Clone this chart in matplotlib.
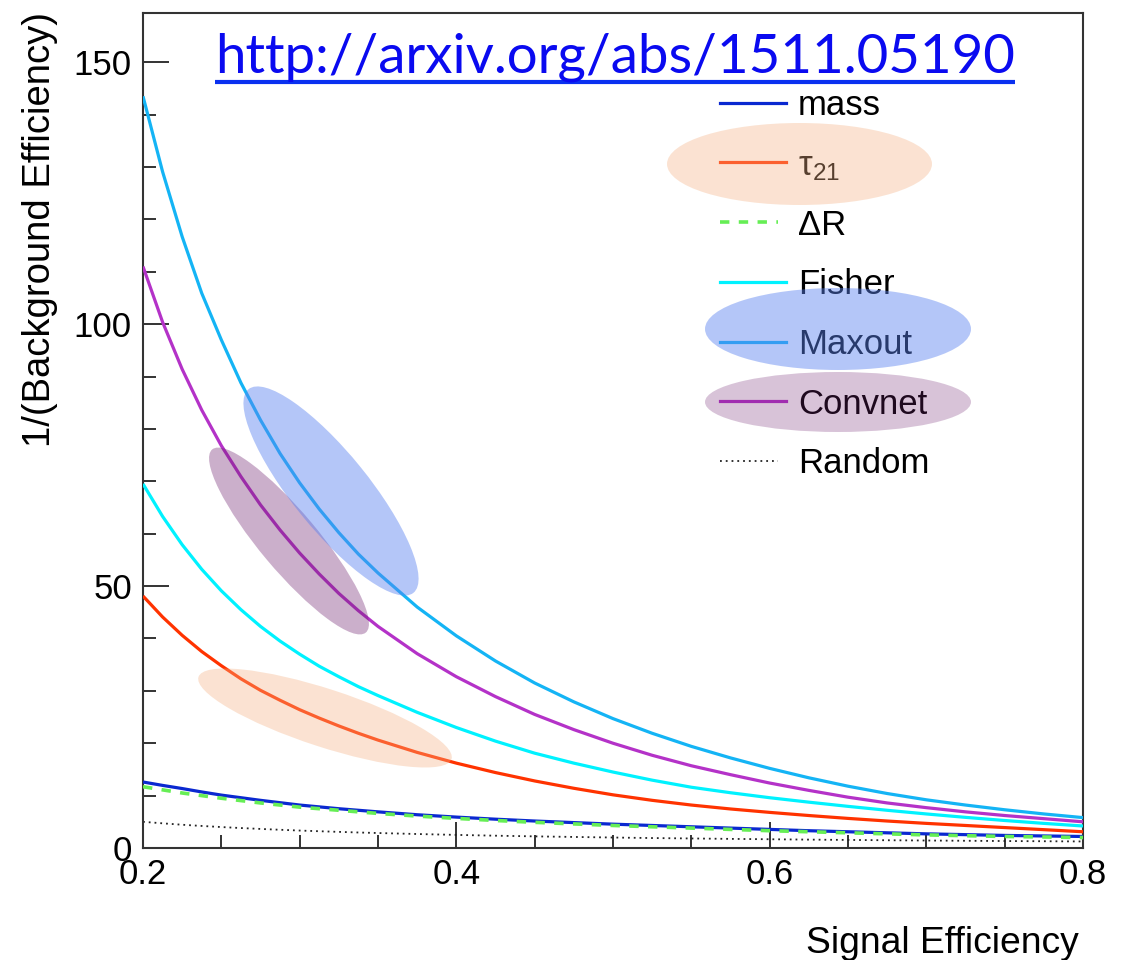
import matplotlib
matplotlib.use('Agg')
import matplotlib.pyplot as plt
from matplotlib.patches import Ellipse
from matplotlib.lines import Line2D
from matplotlib.ticker import MultipleLocator

plt.rcParams['font.family'] = ['Liberation Sans', 'DejaVu Sans']
plt.rcParams['mathtext.fontset'] = 'custom'
plt.rcParams['mathtext.rm'] = 'Liberation Sans'
plt.rcParams['mathtext.it'] = 'Liberation Sans'
plt.rcParams['mathtext.default'] = 'regular'

# ---------------- data ----------------
sig_eff = [0.2, 0.2125, 0.225, 0.2375, 0.25, 0.2625, 0.275, 0.2875, 0.3, 0.3125,
           0.325, 0.3375, 0.35, 0.375, 0.4, 0.425, 0.45, 0.475, 0.5, 0.525,
           0.55, 0.575, 0.6, 0.625, 0.65, 0.675, 0.7, 0.725, 0.75, 0.775, 0.8]
mass    = [12.6, 11.95, 11.35, 10.7, 10.1, 9.6, 9.1, 8.65, 8.2, 7.85,
           7.5, 7.2, 6.9, 6.35, 5.9, 5.5, 5.15, 4.85, 4.55, 4.3,
           4.05, 3.8, 3.55, 3.3, 3.1, 2.9, 2.7, 2.55, 2.4, 2.3, 2.2]
tau21   = [48.1, 44.1, 40.6, 37.5, 34.8, 32.3, 30.1, 28.2, 26.4, 24.8,
           23.3, 21.9, 20.6, 18.25, 16.2, 14.4, 12.8, 11.4, 10.15, 9.1,
           8.2, 7.45, 6.8, 6.2, 5.65, 5.15, 4.7, 4.3, 3.9, 3.5, 3.1]
delta_r = [11.7, 11.1, 10.5, 10.0, 9.5, 9.05, 8.6, 8.2, 7.8, 7.5,
           7.2, 6.9, 6.6, 6.1, 5.65, 5.25, 4.9, 4.6, 4.3, 4.05,
           3.8, 3.55, 3.3, 3.1, 2.9, 2.7, 2.5, 2.35, 2.2, 2.1, 2.0]
fisher  = [69.5, 63.3, 57.9, 53.2, 49.1, 45.5, 42.3, 39.5, 37.0, 34.7,
           32.7, 30.8, 29.1, 25.9, 23.0, 20.4, 18.1, 16.2, 14.5, 12.95,
           11.6, 10.55, 9.6, 8.75, 7.95, 7.2, 6.5, 5.85, 5.25, 4.7, 4.2]
maxout  = [143.5, 129.1, 116.7, 105.9, 97.0, 88.8, 81.7, 75.3, 69.7, 64.7,
           60.2, 56.1, 52.5, 46.0, 40.5, 35.7, 31.5, 27.9, 24.7, 21.9,
           19.4, 17.2, 15.2, 13.4, 11.8, 10.4, 9.2, 8.2, 7.3, 6.5, 5.8]
convnet = [111.0, 100.4, 91.4, 83.6, 76.8, 70.9, 65.5, 60.7, 56.3, 52.3,
           48.6, 45.3, 42.3, 37.1, 32.7, 28.9, 25.5, 22.6, 20.0, 17.7,
           15.7, 14.0, 12.4, 11.0, 9.7, 8.6, 7.7, 6.9, 6.2, 5.6, 5.0]
random_ = [5.0, 4.71, 4.44, 4.21, 4.0, 3.81, 3.64, 3.48, 3.33, 3.2,
           3.08, 2.96, 2.86, 2.67, 2.5, 2.35, 2.22, 2.11, 2.0, 1.9,
           1.82, 1.74, 1.67, 1.6, 1.54, 1.48, 1.43, 1.38, 1.33, 1.29, 1.25]

labels = ['mass', r'$\tau_{21}$', 'ΔR', 'Fisher', 'Maxout', 'Convnet', 'Random']
x_ticks = [0.2, 0.4, 0.6, 0.8]
y_ticks = [0, 50, 100, 150]
url = 'http://arxiv.org/abs/1511.05190'

# ---------------- figure ----------------
W, H = 1129, 960
fig = plt.figure(figsize=(W / 100, H / 100), dpi=100)
ax = fig.add_axes([143 / W, 1 - 848 / H, (1083 - 143) / W, (848 - 13) / H])

styles = {
    'mass':    dict(color='#0A28D0', lw=2.3, ls='-'),
    'tau21':   dict(color='#FF3300', lw=2.3, ls='-'),
    'delta_r': dict(color='#66EE55', lw=2.6, ls=(0, (2.6, 2.6))),
    'fisher':  dict(color='#00F2FF', lw=2.3, ls='-'),
    'maxout':  dict(color='#14B4F5', lw=2.3, ls='-'),
    'convnet': dict(color='#B432C8', lw=2.3, ls='-'),
    'random':  dict(color='#222222', lw=1.3, ls=(0, (1.0, 2.2))),
}
series = [('mass', mass), ('tau21', tau21), ('delta_r', delta_r), ('fisher', fisher),
          ('maxout', maxout), ('convnet', convnet), ('random', random_)]

ax.plot(sig_eff, random_, color=styles['random']['color'], lw=styles['random']['lw'],
        ls=styles['random']['ls'], zorder=2)
for key, vals in series:
    if key == 'random':
        continue
    st = styles[key]
    ax.plot(sig_eff, vals, color=st['color'], lw=st['lw'], ls=st['ls'], zorder=3,
            solid_capstyle='butt', solid_joinstyle='round')

ax.set_xlim(0.2, 0.8)
ax.set_ylim(0, 159.4)
ax.set_xticks(x_ticks)
ax.set_xticklabels([f'{v:g}' for v in x_ticks])
ax.set_yticks(y_ticks)
ax.set_yticklabels([f'{v:g}' for v in y_ticks])
ax.xaxis.set_minor_locator(MultipleLocator(0.05))
ax.yaxis.set_minor_locator(MultipleLocator(10))
ax.tick_params(which='both', direction='in', top=False, right=False,
               width=1.4, color='#333333', labelsize=25, labelcolor='black')
ax.tick_params(which='major', length=19)
ax.tick_params(which='minor', length=9.5)
ax.tick_params(axis='y', pad=8)
ax.tick_params(axis='x', pad=7)
for sp in ax.spines.values():
    sp.set_linewidth(1.5)
    sp.set_color('#333333')

# axis titles (ROOT style: aligned to the end of the axis)
xl = ax.set_xlabel('Signal Efficiency', fontsize=25, ha='right', va='baseline')
ax.xaxis.set_label_coords((1079 - 143) / 940, (848 - 953) / 835)
yl = ax.set_ylabel('1/(Background Efficiency)', fontsize=27.5)
yl.set_rotation_mode('anchor')
yl.set_horizontalalignment('right')
yl.set_verticalalignment('center')
ax.yaxis.set_label_coords((40 - 143) / 940, 1 + (13 - 12) / 835)

renderer = fig.canvas.get_renderer()

def fit_width(txt, target):
    w = txt.get_window_extent(renderer).width
    txt.set_fontsize(txt.get_fontsize() * target / w)

fit_width(xl, 273)

# ---------------- legend (manual, ROOT-like) ----------------
leg_keys = ['mass', 'tau21', 'delta_r', 'fisher', 'maxout', 'convnet', 'random']
row0, drow = 102.7, 59.7
for i, (key, lab) in enumerate(zip(leg_keys, labels)):
    yy = row0 + i * drow
    st = styles[key]
    x1 = 786 if key not in ('delta_r', 'random') else 778
    fig.add_artist(Line2D([720 / W, x1 / W], [1 - yy / H] * 2, color=st['color'],
                          lw=st['lw'], ls=st['ls'], zorder=2))
    fig.text(798 / W, 1 - (yy + 12.5) / H, lab, fontsize=25, ha='left',
             va='baseline', color='black', zorder=3)

# ---------------- highlight ellipses (annotation overlay) ----------------
def ellipse(cx, cy, w, h, ang, color, alpha):
    e = Ellipse((cx / 100, (H - cy) / 100), w / 100, h / 100, angle=ang,
                transform=fig.dpi_scale_trans, facecolor=color, alpha=alpha,
                edgecolor='none', zorder=6)
    fig.add_artist(e)

peach, blue, purple = '#F4B183', '#5A82F0', '#702370'
ellipse(799.5, 164, 265, 82, 0, peach, 0.36)
ellipse(838, 329, 266, 82, 0, blue, 0.45)
ellipse(838, 402, 266, 60, 0, purple, 0.27)
ellipse(325, 718, 266, 58, -18, peach, 0.36)
ellipse(289, 541, 239, 58, -50, purple, 0.36)
ellipse(331, 491, 262, 76, -51, blue, 0.45)

# ---------------- URL text with underline ----------------
ut = fig.text(215 / W, 1 - 73 / H, url, fontsize=40, family=['Lato', 'DejaVu Sans'],
              color='#0A0AF0', ha='left', va='baseline', zorder=10)
fit_width(ut, 800)
bb = ut.get_window_extent(renderer)
fig.add_artist(Line2D([bb.x0 / W, bb.x1 / W], [1 - 82 / H] * 2, color='#0A30F0',
                      lw=3.0, zorder=10, solid_capstyle='butt'))

fig.savefig('out.png', dpi=100)
